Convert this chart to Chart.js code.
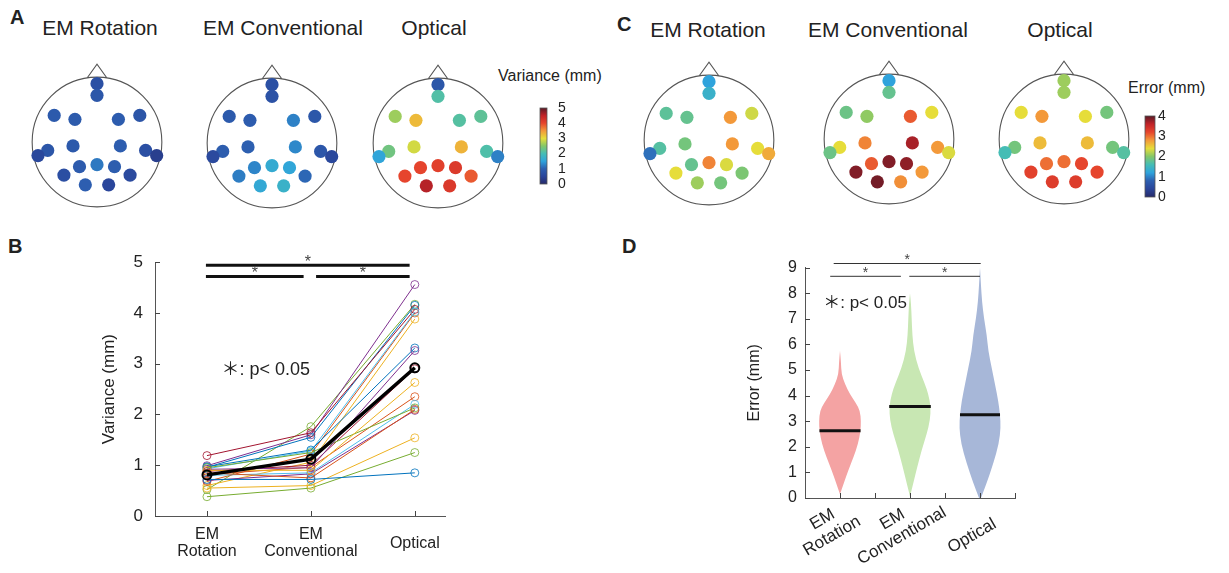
<!DOCTYPE html>
<html>
<head>
<meta charset="utf-8">
<script src="https://cdn.jsdelivr.net/npm/chart.js@4.4.1/dist/chart.umd.min.js"></script>
<style>
  body { margin: 0; background: #fff; width: 1229px; height: 573px; position: relative; overflow: hidden;
         font-family: 'Liberation Sans', Arial, Helvetica, sans-serif; color: #222; }
  canvas { position: absolute; }
  .letter { position: absolute; font-weight: bold; font-size: 20px; line-height: 1; }
  .title { position: absolute; width: 200px; text-align: center; font-size: 21px; line-height: 1; }
  .cbtitle { position: absolute; font-size: 16px; line-height: 1; white-space: nowrap; }
</style>
</head>
<body>
<div class="letter" style="left:10px;top:7px">A</div>
<div class="letter" style="left:8px;top:236px">B</div>
<div class="letter" style="left:617px;top:14px">C</div>
<div class="letter" style="left:622px;top:236px">D</div>

<div class="title" style="left:0px;top:17px">EM Rotation</div>
<div class="title" style="left:183px;top:17px">EM Conventional</div>
<div class="title" style="left:334px;top:17px">Optical</div>
<div class="title" style="left:608px;top:19px">EM Rotation</div>
<div class="title" style="left:788px;top:19px">EM Conventional</div>
<div class="title" style="left:960px;top:19px">Optical</div>

<div class="cbtitle" style="left:498px;top:68px">Variance (mm)</div>
<div class="cbtitle" style="left:1128px;top:80px">Error (mm)</div>

<canvas id="headA1" width="180" height="180" style="left:7px;top:52px"></canvas>
<canvas id="headA2" width="180" height="180" style="left:182px;top:53px"></canvas>
<canvas id="headA3" width="180" height="180" style="left:348px;top:53px"></canvas>
<canvas id="barA" width="50" height="112" style="left:530px;top:90px"></canvas>
<canvas id="headC1" width="180" height="180" style="left:619px;top:50px"></canvas>
<canvas id="headC2" width="180" height="180" style="left:799px;top:49px"></canvas>
<canvas id="headC3" width="180" height="180" style="left:974px;top:49px"></canvas>
<canvas id="barC" width="50" height="101" style="left:1135px;top:106px"></canvas>
<canvas id="chartB" width="370" height="333" style="left:90px;top:240px"></canvas>
<canvas id="chartD" width="360" height="323" style="left:700px;top:250px"></canvas>

<script>
// 전극 배치 (머리 반지름 = 1)
const elecX = [0, 0, -0.66, -0.34, 0.33, 0.66, -0.37, 0.36, -0.76, -0.91, 0.75, 0.92, -0.27, 0, 0.27, -0.51, 0.51, -0.18, 0.18];
const elecY = [0.9, 0.72, 0.41, 0.35, 0.35, 0.41, -0.06, -0.06, -0.13, -0.21, -0.13, -0.21, -0.38, -0.35, -0.38, -0.51, -0.51, -0.66, -0.66];

// 전극별 variance (mm) - A, B 공통
const varRot  = [0.72, 0.85, 0.90, 0.92, 0.95, 0.80, 0.88, 0.97, 0.82, 0.55, 0.70, 0.38, 0.93, 1.19, 0.96, 0.68, 0.60, 0.99, 0.52];
const varConv = [0.72, 0.75, 0.90, 0.95, 1.25, 0.85, 1.00, 1.30, 0.96, 0.60, 0.83, 0.55, 1.28, 1.64, 1.55, 1.22, 1.06, 1.60, 1.76];
const varOpt  = [0.85, 2.10, 2.63, 3.26, 2.13, 2.20, 2.90, 3.31, 2.35, 1.54, 2.08, 1.25, 4.02, 4.07, 4.15, 4.00, 3.88, 4.56, 4.17];
const varMean = [0.81, 1.12, 2.92];

// 전극별 error (mm) - C
const errRot  = [1.2, 1.4, 1.75, 1.8, 2.8, 2.3, 1.9, 2.8, 1.7, 0.9, 2.4, 2.7, 1.8, 2.9, 2.35, 2.4, 1.95, 2.1, 1.9];
const errConv = [1.2, 1.8, 1.85, 2.05, 3.1, 2.4, 2.9, 3.7, 2.4, 1.85, 2.8, 2.35, 3.1, 3.85, 3.8, 3.85, 2.8, 3.9, 2.85];
const errOpt  = [2.1, 2.1, 2.4, 2.8, 2.4, 1.9, 2.6, 2.6, 1.9, 1.6, 1.9, 1.7, 3.0, 3.0, 3.2, 3.25, 3.2, 3.3, 3.3];

// 그룹 / 눈금 라벨
const groups = ['EM Rotation', 'EM Conventional', 'Optical'];
const groupX = [1, 2, 3];
const tickLabels = [['EM', 'Rotation'], ['EM', 'Conventional'], ['Optical']];
const varTicks = [0, 1, 2, 3, 4, 5];
const errTicks = [0, 1, 2, 3, 4, 5, 6, 7, 8, 9];

// 바이올린 (y 위치, 반폭) - D
const rotY  = [0.15, 0.6, 1.1, 1.6, 2.1, 2.6, 3.0, 3.4, 3.7, 4.05, 4.45, 4.85, 5.3, 5.75];
const rotW  = [0, 0.057, 0.121, 0.193, 0.257, 0.293, 0.3, 0.286, 0.229, 0.143, 0.071, 0.021, 0.014, 0];
const convY = [0.06, 0.58, 1.22, 1.87, 2.5, 3.03, 3.57, 4.06, 4.45, 5.09, 5.73, 6.38, 7.02, 7.6, 8.0];
const convW = [0, 0.047, 0.104, 0.167, 0.239, 0.286, 0.297, 0.261, 0.214, 0.119, 0.057, 0.033, 0.024, 0.014, 0];
const optY  = [0, 0.58, 1.35, 2.13, 2.77, 3.25, 3.8, 4.45, 5.09, 5.73, 6.38, 7.02, 7.67, 8.3, 9.0];
const optW  = [0.014, 0.096, 0.19, 0.271, 0.296, 0.286, 0.261, 0.214, 0.167, 0.119, 0.096, 0.057, 0.029, 0.014, 0];
const errMedian = [2.63, 3.57, 3.25];

const FONT = "'Liberation Sans', Arial, Helvetica, sans-serif";
Chart.defaults.font.family = FONT;
Chart.defaults.color = '#222';

// jet 계열 컬러맵
const cmapStops = ['#262a6a', '#2a459a', '#2d5fb0', '#2fa3dc', '#45bdb5', '#84c769', '#e6dd3a', '#f3993a', '#e6452d', '#c22328', '#5a1a26'];
function hexToRgb(h) {
    const n = parseInt(h.slice(1), 16);
    return [(n >> 16) & 255, (n >> 8) & 255, n & 255];
}
function colorAt(f) {
    f = Math.max(0, Math.min(1, f));
    const n = cmapStops.length - 1;
    const i = Math.min(n - 1, Math.floor(f * n));
    const t = f * n - i;
    const a = hexToRgb(cmapStops[i]), b = hexToRgb(cmapStops[i + 1]);
    return 'rgb(' + a.map((c, k) => Math.round(c + (b[k] - c) * t)).join(',') + ')';
}

// 머리 윤곽 + 코
const headOutline = {
    id: 'headOutline',
    beforeDatasetsDraw(chart) {
        const { ctx, scales: { x, y } } = chart;
        const cx = x.getPixelForValue(0), cy = y.getPixelForValue(0);
        const r = x.getPixelForValue(1) - cx;
        ctx.save();
        ctx.strokeStyle = '#555';
        ctx.lineWidth = 1.1;
        ctx.beginPath();
        ctx.arc(cx, cy, r, 0, Math.PI * 2);
        ctx.stroke();
        ctx.beginPath();
        ctx.moveTo(x.getPixelForValue(-0.15), y.getPixelForValue(0.99));
        ctx.lineTo(cx, y.getPixelForValue(1.2));
        ctx.lineTo(x.getPixelForValue(0.15), y.getPixelForValue(0.99));
        ctx.stroke();
        ctx.restore();
    }
};

function drawHead(id, values, vmax) {
    new Chart(document.getElementById(id), {
        type: 'scatter',
        data: {
            datasets: [{
                data: elecX.map((ex, i) => ({ x: ex, y: elecY[i] })),
                pointRadius: 6.6,
                pointHoverRadius: 6.6,
                borderWidth: 0,
                backgroundColor: values.map(v => colorAt(v / vmax))
            }]
        },
        options: {
            responsive: false,
            animation: false,
            events: [],
            layout: { padding: 0 },
            plugins: { legend: { display: false }, tooltip: { enabled: false } },
            scales: {
                x: { display: false, min: -1.286, max: 1.286 },
                y: { display: false, min: -1.286, max: 1.286 }
            }
        },
        plugins: [headOutline]
    });
}

// 컬러바 채우기
const colorBarFill = {
    id: 'colorBarFill',
    beforeDraw(chart) {
        const { ctx, chartArea: a } = chart;
        const g = ctx.createLinearGradient(0, a.bottom, 0, a.top);
        cmapStops.forEach((c, i) => g.addColorStop(i / (cmapStops.length - 1), c));
        ctx.save();
        ctx.fillStyle = g;
        ctx.fillRect(a.left, a.top, a.right - a.left, a.bottom - a.top);
        ctx.strokeStyle = '#555';
        ctx.lineWidth = 0.8;
        ctx.strokeRect(a.left, a.top, a.right - a.left, a.bottom - a.top);
        ctx.restore();
    }
};

function drawColorBar(id, vmax, scaleWidth, tickPad) {
    new Chart(document.getElementById(id), {
        type: 'scatter',
        data: { datasets: [] },
        options: {
            responsive: false,
            animation: false,
            events: [],
            layout: { padding: { left: 10, top: 7, bottom: 7, right: 0 } },
            plugins: { legend: { display: false }, tooltip: { enabled: false } },
            scales: {
                x: { display: false, min: 0, max: 1 },
                y: {
                    position: 'right', min: 0, max: vmax,
                    grid: { display: false, drawTicks: false },
                    border: { display: false },
                    ticks: { stepSize: 1, autoSkip: false, padding: tickPad, font: { size: 14, lineHeight: 1 }, color: '#222' },
                    afterFit: s => { s.width = scaleWidth; }
                }
            }
        },
        plugins: [colorBarFill]
    });
}

// 안쪽 눈금
const inwardTicks = {
    id: 'inwardTicks',
    afterDraw(chart, args, o) {
        const { ctx, chartArea: a, scales: { x, y } } = chart;
        ctx.save();
        ctx.strokeStyle = '#444';
        ctx.lineWidth = 1;
        ctx.beginPath();
        o.yTicks.forEach(v => {
            const py = Math.round(y.getPixelForValue(v)) + 0.5;
            ctx.moveTo(a.left, py);
            ctx.lineTo(a.left + 5, py);
        });
        o.xTicks.forEach(v => {
            const px = Math.round(x.getPixelForValue(v)) + 0.5;
            ctx.moveTo(px, a.bottom);
            ctx.lineTo(px, a.bottom - 5);
        });
        ctx.stroke();
        ctx.restore();
    }
};

// 유의성 막대 + 주석
const sigBars = {
    id: 'sigBars',
    afterDraw(chart, args, o) {
        const { ctx, scales: { x, y } } = chart;
        ctx.save();
        ctx.strokeStyle = o.color;
        ctx.lineWidth = o.width;
        ctx.fillStyle = '#444';
        ctx.font = o.starSize + 'px ' + FONT;
        ctx.textAlign = 'center';
        ctx.textBaseline = 'middle';
        o.bars.forEach(b => {
            const py = y.getPixelForValue(b[2]);
            ctx.beginPath();
            ctx.moveTo(x.getPixelForValue(b[0]), py);
            ctx.lineTo(x.getPixelForValue(b[1]), py);
            ctx.stroke();
            ctx.fillText('*', x.getPixelForValue((b[0] + b[1]) / 2), py - 3);
        });
        ctx.fillStyle = '#222';
        ctx.font = o.noteSize + 'px ' + FONT + ", 'Noto Sans CJK JP'";
        ctx.textAlign = 'left';
        ctx.fillText('\uFF0A: p< 0.05', x.getPixelForValue(o.note[0]), y.getPixelForValue(o.note[1]));
        ctx.restore();
    }
};

// ---- 초기화 ----
drawHead('headA1', varRot, 5);
drawHead('headA2', varConv, 5);
drawHead('headA3', varOpt, 5);
drawColorBar('barA', 5, 33, 11);
drawHead('headC1', errRot, 4);
drawHead('headC2', errConv, 4);
drawHead('headC3', errOpt, 4);
drawColorBar('barC', 4, 30, 3);

// ---- B: 전극별 variance 선 그래프 ----
const lineColors = ['#0072BD', '#D95319', '#EDB120', '#7E2F8E', '#77AC30', '#4DBEEE', '#A2142F'];
const varDatasets = varRot.map((v, i) => ({
    data: [varRot[i], varConv[i], varOpt[i]].map((val, k) => ({ x: groupX[k], y: val })),
    borderColor: lineColors[i % 7],
    borderWidth: 1,
    pointRadius: 4,
    pointBorderWidth: 0.8,
    pointBorderColor: lineColors[i % 7],
    pointBackgroundColor: 'rgba(0,0,0,0)',
    order: 1
}));
varDatasets.push({
    data: varMean.map((val, k) => ({ x: groupX[k], y: val })),
    borderColor: '#000',
    borderWidth: 3.5,
    pointRadius: 4.5,
    pointBorderWidth: 2,
    pointBorderColor: '#000',
    pointBackgroundColor: 'rgba(0,0,0,0)',
    order: 0
});

new Chart(document.getElementById('chartB'), {
    type: 'line',
    data: { datasets: varDatasets },
    options: {
        responsive: false,
        animation: false,
        events: [],
        layout: { padding: { top: 19, right: 12, left: 0, bottom: 0 } },
        plugins: {
            legend: { display: false },
            tooltip: { enabled: false },
            inwardTicks: { xTicks: groupX, yTicks: varTicks },
            sigBars: {
                color: '#111', width: 3, starSize: 16, noteSize: 18,
                bars: [[0.99, 2.95, 4.94], [0.99, 1.93, 4.72], [2.05, 2.95, 4.72]],
                note: [1.14, 2.88]
            }
        },
        scales: {
            x: {
                type: 'linear', min: 0.5, max: 3.3,
                grid: { drawOnChartArea: false, drawTicks: false },
                border: { color: '#555', width: 1 },
                afterBuildTicks: s => { s.ticks = groupX.map(v => ({ value: v })); },
                ticks: {
                    callback: v => tickLabels[v - 1],
                    font: { size: 16, lineHeight: 1.05 },
                    color: '#222',
                    padding: 19,
                    crossAlign: 'center',
                    maxRotation: 0, minRotation: 0
                },
                afterFit: s => { s.height = 57; }
            },
            y: {
                min: 0, max: 5,
                grid: { drawOnChartArea: false, drawTicks: false },
                border: { color: '#555', width: 1 },
                ticks: { stepSize: 1, font: { size: 17 }, color: '#222', padding: 12 },
                title: { display: true, text: 'Variance (mm)', font: { size: 17 }, color: '#222', padding: { top: 9, bottom: 0 } },
                afterFit: s => { s.width = 65; }
            }
        }
    },
    plugins: [inwardTicks, sigBars]
});

// ---- D: error 바이올린 ----
function widthAt(ys, ws, v) {
    for (let i = 0; i < ys.length - 1; i++) {
        if (v >= ys[i] && v <= ys[i + 1]) {
            const t = (v - ys[i]) / (ys[i + 1] - ys[i]);
            return ws[i] + (ws[i + 1] - ws[i]) * t;
        }
    }
    return 0;
}

const violins = [
    { ys: rotY, ws: rotW, color: '#f4a3a3' },
    { ys: convY, ws: convW, color: '#c8e7b3' },
    { ys: optY, ws: optW, color: '#a7b7d8' }
];

const violinDraw = {
    id: 'violinDraw',
    beforeDatasetsDraw(chart) {
        const { ctx, scales: { x, y } } = chart;
        ctx.save();
        violins.forEach((vl, k) => {
            const c = groupX[k];
            const pts = [];
            vl.ys.forEach((yy, i) => pts.push([x.getPixelForValue(c + vl.ws[i]), y.getPixelForValue(yy)]));
            for (let i = vl.ys.length - 1; i >= 0; i--) {
                pts.push([x.getPixelForValue(c - vl.ws[i]), y.getPixelForValue(vl.ys[i])]);
            }
            ctx.fillStyle = vl.color;
            ctx.beginPath();
            ctx.moveTo(pts[0][0], pts[0][1]);
            for (let i = 1; i < pts.length - 1; i++) {
                const mx = (pts[i][0] + pts[i + 1][0]) / 2, my = (pts[i][1] + pts[i + 1][1]) / 2;
                ctx.quadraticCurveTo(pts[i][0], pts[i][1], mx, my);
            }
            ctx.lineTo(pts[pts.length - 1][0], pts[pts.length - 1][1]);
            ctx.closePath();
            ctx.fill();

            // 중앙값 선
            const w = widthAt(vl.ys, vl.ws, errMedian[k]);
            const py = y.getPixelForValue(errMedian[k]);
            ctx.strokeStyle = '#111';
            ctx.lineWidth = 3;
            ctx.beginPath();
            ctx.moveTo(x.getPixelForValue(c - w), py);
            ctx.lineTo(x.getPixelForValue(c + w), py);
            ctx.stroke();
        });
        ctx.restore();
    },
    afterDraw(chart) {
        // 회전된 x축 라벨
        const { ctx, chartArea: a, scales: { x } } = chart;
        ctx.save();
        ctx.fillStyle = '#222';
        ctx.font = '17px ' + FONT;
        ctx.textAlign = 'center';
        ctx.textBaseline = 'middle';
        const lh = 19;
        tickLabels.forEach((lines, i) => {
            ctx.save();
            ctx.translate(x.getPixelForValue(groupX[i]) - 8, a.bottom + 38);
            ctx.rotate(-Math.PI / 6);
            lines.forEach((t, j) => ctx.fillText(t, 0, (j - (lines.length - 1)) * lh));
            ctx.restore();
        });
        ctx.restore();
    }
};

new Chart(document.getElementById('chartD'), {
    type: 'scatter',
    data: { datasets: [] },
    options: {
        responsive: false,
        animation: false,
        events: [],
        layout: { padding: { top: 16, right: 45, left: 0, bottom: 0 } },
        plugins: {
            legend: { display: false },
            tooltip: { enabled: false },
            inwardTicks: { xTicks: [1, 1.5, 2, 2.5, 3, 3.5], yTicks: errTicks },
            sigBars: {
                color: '#333', width: 1, starSize: 14, noteSize: 17,
                bars: [[0.91, 3.01, 9.16], [0.86, 1.87, 8.66], [1.99, 3.0, 8.66]],
                note: [0.76, 7.6]
            }
        },
        scales: {
            x: {
                type: 'linear', min: 0.5, max: 3.5,
                grid: { drawOnChartArea: false, drawTicks: false },
                border: { color: '#555', width: 1 },
                ticks: { display: false },
                afterFit: s => { s.height = 75; }
            },
            y: {
                min: 0, max: 9,
                grid: { drawOnChartArea: false, drawTicks: false },
                border: { color: '#555', width: 1 },
                ticks: { stepSize: 1, font: { size: 16 }, color: '#222', padding: 8 },
                title: { display: true, text: 'Error (mm)', font: { size: 16 }, color: '#222', padding: { top: 45, bottom: 0 } },
                afterFit: s => { s.width = 105; }
            }
        }
    },
    plugins: [violinDraw, inwardTicks, sigBars]
});
</script>
</body>
</html>
